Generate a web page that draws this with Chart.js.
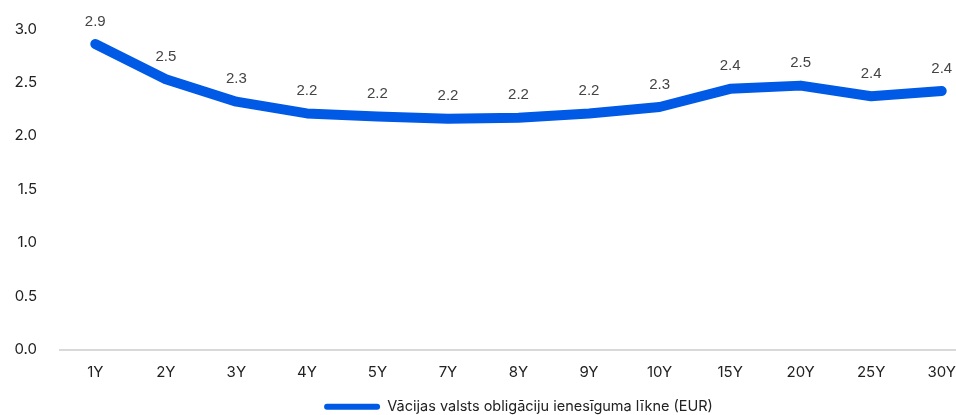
<!DOCTYPE html>
<html>
<head>
<meta charset="utf-8">
<script src="https://cdn.jsdelivr.net/npm/chart.js@4/dist/chart.umd.min.js"></script>
<style>
  html, body { margin: 0; padding: 0; background: #fff; overflow: hidden; }
  #wrap { position: relative; width: 1044px; height: 424px; }
</style>
</head>
<body>
<div id="wrap"><canvas id="yieldChart"></canvas></div>
<script>
// Chart data
const maturities = ['1Y', '2Y', '3Y', '4Y', '5Y', '7Y', '8Y', '9Y', '10Y', '15Y', '20Y', '25Y', '30Y'];
const yields = [2.86, 2.53, 2.32, 2.21, 2.18, 2.16, 2.17, 2.21, 2.27, 2.44, 2.47, 2.37, 2.42];
const yTicks = [0, 0.5, 1.0, 1.5, 2.0, 2.5, 3.0];
const seriesName = 'Vācijas valsts obligāciju ienesīguma līkne (EUR)';

const blue = '#005AE6';

// Draw value labels above each point
const valueLabels = {
  id: 'valueLabels',
  afterDatasetsDraw(chart) {
    const ctx = chart.ctx;
    const meta = chart.getDatasetMeta(0);
    ctx.save();
    ctx.font = '15px "Liberation Sans", Arial, sans-serif';
    ctx.fillStyle = '#444';
    ctx.textAlign = 'center';
    ctx.textBaseline = 'bottom';
    meta.data.forEach((pt, i) => {
      ctx.fillText(yields[i].toFixed(1), pt.x, pt.y - 15);
    });
    ctx.restore();
  }
};

const ctx = document.getElementById('yieldChart').getContext('2d');
new Chart(ctx, {
  type: 'line',
  data: {
    labels: maturities,
    datasets: [{
      label: seriesName,
      data: yields,
      borderColor: blue,
      backgroundColor: blue,
      borderWidth: 10,
      pointRadius: 0,
      tension: 0,
      borderCapStyle: 'round',
      borderJoinStyle: 'round'
    }]
  },
  options: {
    responsive: true,
    maintainAspectRatio: false,
    animation: false,
    layout: { padding: { top: 29, right: 67, left: 0, bottom: 0 } },
    plugins: {
      tooltip: { enabled: false },
      legend: {
        position: 'bottom',
        fullSize: false,
        labels: {
          boxWidth: 56,
          boxHeight: 6,
          useBorderRadius: true,
          borderRadius: 3,
          padding: 1,
          color: '#222',
          font: { family: 'Inter, sans-serif', size: 14.5 },
          generateLabels(chart) {
            const items = Chart.defaults.plugins.legend.labels.generateLabels(chart);
            items.forEach(it => { it.lineWidth = 0; });
            return items;
          }
        }
      }
    },
    scales: {
      x: {
        offset: true,
        afterFit(scale) { scale.height = 49; },
        grid: { display: false },
        border: { display: true, color: '#d9d9d9', width: 2 },
        ticks: {
          color: '#222',
          padding: 6,
          maxRotation: 0,
          font: { family: 'Inter, sans-serif', size: 15 }
        }
      },
      y: {
        min: 0,
        max: 3,
        afterFit(scale) { scale.width = 60; },
        afterBuildTicks(scale) { scale.ticks = yTicks.map(v => ({ value: v })); },
        grid: { display: false },
        border: { display: false },
        ticks: {
          color: '#222',
          padding: 15,
          font: { family: 'Inter, sans-serif', size: 15 },
          callback: v => Number(v).toFixed(1)
        }
      }
    }
  },
  plugins: [valueLabels]
});
</script>
</body>
</html>
